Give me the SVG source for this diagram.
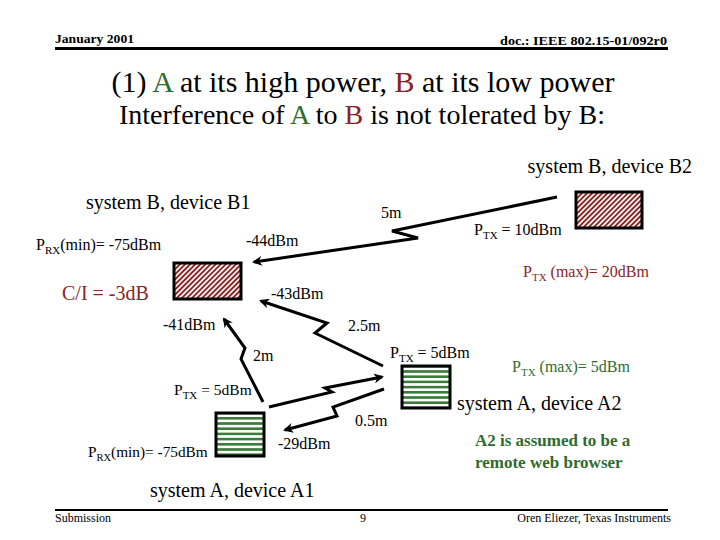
<svg xmlns="http://www.w3.org/2000/svg" width="720" height="540" viewBox="0 0 720 540">
<defs>
<pattern id="hatchB" width="3.6" height="6" patternUnits="userSpaceOnUse" patternTransform="rotate(45)">
<rect width="3.6" height="6" fill="#ffffff"/>
<rect width="1.9" height="6" fill="#8b2323"/>
</pattern>
<pattern id="hatchA" width="6" height="5.2" patternUnits="userSpaceOnUse" y="1">
<rect width="6" height="5.2" fill="#ffffff"/>
<rect width="6" height="2.6" fill="#3a7d3a"/>
</pattern>
<marker id="arr" markerWidth="10" markerHeight="10" refX="8" refY="5" orient="auto" markerUnits="userSpaceOnUse">
<path d="M0,0 L10,5 L0,10 L3,5 Z" fill="#000"/>
</marker>
</defs>
<style>
text{font-family:"Liberation Serif","Times New Roman",serif;fill:#000}
.hdr{font-size:13px;font-weight:bold}
.ftr{font-size:12px}
.lbl{font-size:16px}
.sys{font-size:20px}
.red{fill:#8b2323}
.grn{fill:#2f6b2f}
.conn{fill:none;stroke:#000;stroke-width:3;stroke-linejoin:miter;marker-end:url(#arr)}
.boxB{fill:url(#hatchB);stroke:#000;stroke-width:3}
.boxA{fill:url(#hatchA);stroke:#000;stroke-width:3}
</style>
<rect width="720" height="540" fill="#ffffff"/>
<g id="header" font-family="Liberation Serif, serif">
<text class="hdr" x="55" y="43" textLength="79" lengthAdjust="spacingAndGlyphs">January 2001</text>
<text class="hdr" x="500" y="45" textLength="167" lengthAdjust="spacingAndGlyphs">doc.: IEEE 802.15-01/092r0</text>
<line x1="55" y1="48.5" x2="668" y2="48.5" stroke="#000" stroke-width="3"/>
</g>
<g id="title">
<text x="363" y="92" text-anchor="middle" font-size="30">(1) <tspan class="grn">A</tspan> at its high power, <tspan class="red">B</tspan> at its low power</text>
<text x="362" y="124" text-anchor="middle" font-size="28">Interference of <tspan class="grn">A</tspan> to <tspan class="red">B</tspan> is not tolerated by B:</text>
</g>
<g id="B2">
<rect class="boxB" x="576" y="192" width="66" height="36"/>
<text class="sys" x="692" y="173" text-anchor="end">system B, device B2</text>
<text class="lbl" x="474" y="235">P<tspan font-size="11" dy="4">TX</tspan><tspan dy="-4"> = 10dBm</tspan></text>
<text class="lbl red" x="523" y="277">P<tspan font-size="11" dy="4">TX</tspan><tspan dy="-4"> (max)= 20dBm</tspan></text>
</g>
<g id="B1">
<rect class="boxB" x="174" y="263" width="67" height="36"/>
<text class="sys" x="86" y="209">system B, device B1</text>
<text class="lbl" x="36" y="250">P<tspan font-size="11" dy="4">RX</tspan><tspan dy="-4">(min)= -75dBm</tspan></text>
<text class="red" x="62" y="300" font-size="20">C/I = -3dB</text>
</g>
<g id="A2">
<rect class="boxA" x="402" y="366" width="48" height="42"/>
<text class="lbl" x="390" y="358">P<tspan font-size="11" dy="4">TX</tspan><tspan dy="-4"> = 5dBm</tspan></text>
<text class="lbl grn" x="512" y="372">P<tspan font-size="11" dy="4">TX</tspan><tspan dy="-4"> (max)= 5dBm</tspan></text>
<text class="sys" x="457" y="410">system A, device A2</text>
<text class="grn" x="475" y="446" font-size="17" font-weight="bold">A2 is assumed to be a</text>
<text class="grn" x="475" y="468" font-size="17" font-weight="bold">remote web browser</text>
</g>
<g id="A1">
<rect class="boxA" x="216" y="413" width="48" height="43"/>
<text x="174" y="395" font-size="15.5">P<tspan font-size="11" dy="4">TX</tspan><tspan dy="-4"> = 5dBm</tspan></text>
<text x="88" y="457" font-size="15.3">P<tspan font-size="10.5" dy="4">RX</tspan><tspan dy="-4">(min)= -75dBm</tspan></text>
<text class="sys" x="150" y="497">system A, device A1</text>
</g>
<g id="connectors">
<polyline class="conn" points="557,197 392,231 418,238 254,262"/>
<polyline class="conn" points="383,366 315,333 327,323 261,301"/>
<polyline class="conn" points="263,402 241,359 245,348 224,319"/>
<polyline class="conn" points="269,407 332,392 325,388 382,377"/>
<polyline class="conn" points="384,389 333,407 337,416 285,430"/>
</g>
<g id="connector-labels">
<text class="lbl" x="381" y="218">5m</text>
<text class="lbl" x="246" y="246">-44dBm</text>
<text class="lbl" x="271" y="299">-43dBm</text>
<text class="lbl" x="163" y="330">-41dBm</text>
<text class="lbl" x="348" y="331">2.5m</text>
<text class="lbl" x="253" y="361">2m</text>
<text class="lbl" x="355" y="426">0.5m</text>
<text class="lbl" x="278" y="449">-29dBm</text>
</g>
<g id="footer">
<line x1="55" y1="510" x2="668" y2="510" stroke="#000" stroke-width="2"/>
<text class="ftr" x="55" y="522">Submission</text>
<text class="ftr" x="360" y="522">9</text>
<text class="ftr" x="671" y="522" text-anchor="end">Oren Eliezer, Texas Instruments</text>
</g>
</svg>
